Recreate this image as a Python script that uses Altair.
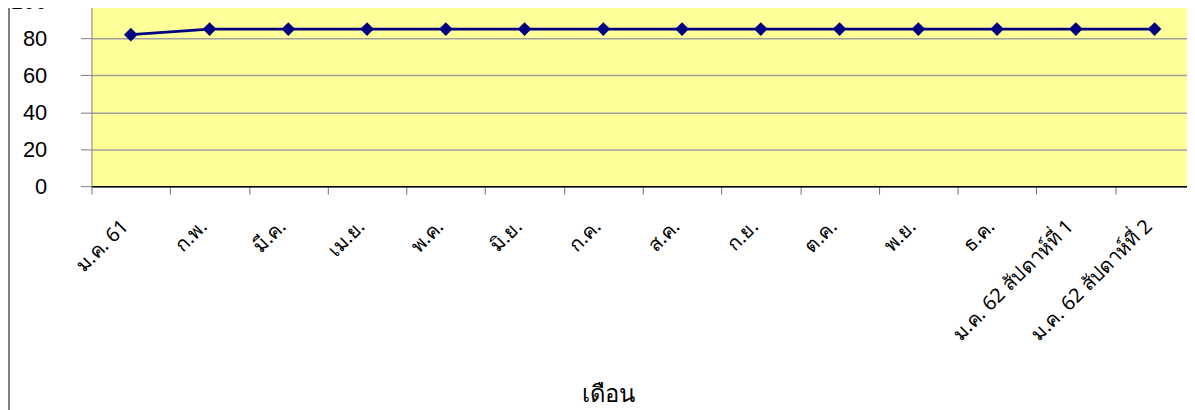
import altair as alt
import pandas as pd

months = ["ม.ค. 61", "ก.พ.", "มี.ค.", "เม.ย.", "พ.ค.", "มิ.ย.", "ก.ค.", "ส.ค.",
          "ก.ย.", "ต.ค.", "พ.ย.", "ธ.ค.", "ม.ค. 62 สัปดาห์ที่ 1", "ม.ค. 62 สัปดาห์ที่ 2"]
values = [82, 85, 85, 85, 85, 85, 85, 85, 85, 85, 85, 85, 85, 85]
y_ticks = [0, 20, 40, 60, 80, 100]

df = pd.DataFrame({"month": months, "value": values})

x = alt.X("month:N", sort=months, title="เดือน",
          scale=alt.Scale(paddingInner=0, paddingOuter=0),
          axis=alt.Axis(labelAngle=-45, labelAlign="right", labelBaseline="middle",
                        labelFont="Noto Sans", labelFontSize=20, labelColor="#000000",
                        labelPadding=29, labelOffset=-6, tickBand="extent", tickSize=8,
                        tickColor="#707070",
                        domainColor="#000000", domainWidth=1.5,
                        titleFont="Noto Sans", titleFontSize=24, titleFontWeight="normal",
                        titleColor="#000000", titleX=520, titleY=210,
                        titleBaseline="middle", titleAnchor="start", titleAlign="center"))
y = alt.Y("value:Q", title=None,
          scale=alt.Scale(domain=[0, 100], nice=False, zero=True),
          axis=alt.Axis(values=y_ticks, labelFont="Liberation Sans", labelFontSize=22,
                        labelColor="#000000", labelPadding=34, tickSize=11,
                        tickColor="#808080", domainColor="#808080",
                        gridColor="#a0a0a0", gridWidth=1.5))

line = alt.Chart(df).mark_line(color="#000080", strokeWidth=2.6).encode(x=x, y=y)
points = alt.Chart(df).mark_point(shape="diamond", filled=True, size=190, opacity=1,
                                  color="#000080").encode(x=x, y=y)
border = alt.Chart(df).mark_rule(color="#808080", strokeWidth=1.5).encode(
    x=alt.value(-83), y=alt.value(-20), y2=alt.value(440))

chart = alt.layer(border, line, points).properties(
    width=1110, height=186,
    autosize=alt.AutoSizeParams(type="none"),
    padding={"left": 84, "top": -8, "right": -7, "bottom": 224},
).configure_view(fill="#FFFF99", stroke=None)

chart.save("out.html", embed_options={"renderer": "svg", "actions": False})
